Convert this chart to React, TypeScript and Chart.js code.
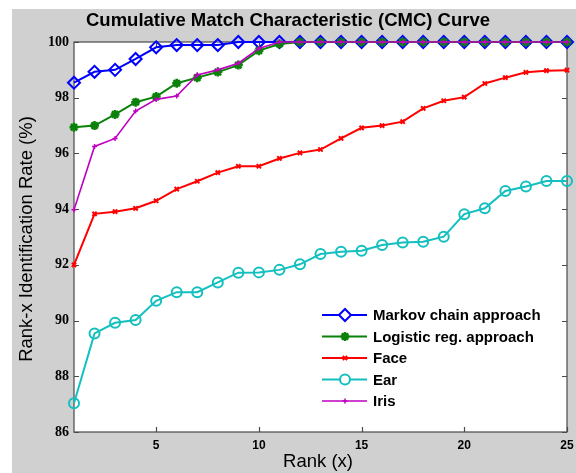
import React, { useEffect, useRef } from "react";
import { Chart, registerables } from "chart.js";
import { drawPoint } from "chart.js/helpers";

Chart.register(...registerables);

const ranks = [1, 2, 3, 4, 5, 6, 7, 8, 9, 10, 11, 12, 13, 14, 15, 16, 17, 18, 19, 20, 21, 22, 23, 24, 25];
const markov = [98.54, 98.93, 99.0, 99.39, 99.81, 99.89, 99.89, 99.89, 100, 100, 100, 100, 100, 100, 100, 100, 100, 100, 100, 100, 100, 100, 100, 100, 100];
const logistic = [96.94, 97.0, 97.4, 97.84, 98.04, 98.52, 98.72, 98.92, 99.17, 99.69, 99.93, 100, 100, 100, 100, 100, 100, 100, 100, 100, 100, 100, 100, 100, 100];
const face = [92.0, 93.83, 93.91, 94.03, 94.3, 94.72, 95.0, 95.31, 95.54, 95.54, 95.82, 96.02, 96.14, 96.54, 96.92, 97.0, 97.14, 97.62, 97.89, 98.02, 98.51, 98.72, 98.91, 98.97, 98.99];
const ear = [87.03, 89.54, 89.92, 90.02, 90.71, 91.02, 91.02, 91.37, 91.72, 91.73, 91.82, 92.02, 92.39, 92.47, 92.51, 92.71, 92.8, 92.83, 93.01, 93.82, 94.03, 94.65, 94.81, 95.01, 95.01];
const iris = [93.98, 96.25, 96.54, 97.52, 97.94, 98.06, 98.82, 99.0, 99.24, 99.77, 100, 100, 100, 100, 100, 100, 100, 100, 100, 100, 100, 100, 100, 100, 100];

const xTicks = [5, 10, 15, 20, 25];
const yTicks = [86, 88, 90, 92, 94, 96, 98, 100];

const titleText = "Cumulative Match Characteristic (CMC) Curve";
const xLabel = "Rank (x)";
const yLabel = "Rank-x Identification Rate (%)";

const seriesDefs = [
  { label: "Markov chain approach", values: markov, color: "#0000ff", style: "rectRot", radius: 6, lw: 2, pbw: 2, fill: "rgba(0,0,0,0)", order: 5 },
  { label: "Logistic reg. approach", values: logistic, color: "#0a820a", style: "star", radius: 4.5, lw: 2, pbw: 2.5, fill: "#0a820a", order: 4 },
  { label: "Face", values: face, color: "#ff0000", style: "crossRot", radius: 3, lw: 2, pbw: 2, fill: "#ff0000", order: 3 },
  { label: "Ear", values: ear, color: "#14bfbf", style: "circle", radius: 5, lw: 2, pbw: 2, fill: "rgba(0,0,0,0)", order: 2 },
  { label: "Iris", values: iris, color: "#c000c0", style: "cross", radius: 2.5, lw: 1.6, pbw: 1.5, fill: "#c000c0", order: 1 },
];

const GRAY = "#d0d0d0";

const decorPlugin = {
  id: "decor",
  beforeDraw(chart: any) {
    const { ctx, chartArea } = chart;
    ctx.save();
    ctx.fillStyle = "#ffffff";
    ctx.fillRect(0, 0, chart.width, chart.height);
    ctx.fillStyle = GRAY;
    ctx.fillRect(12, 9, chart.width - 12, chart.height - 9);
    ctx.fillStyle = "#ffffff";
    ctx.fillRect(chartArea.left, chartArea.top, chartArea.right - chartArea.left, chartArea.bottom - chartArea.top);
    ctx.restore();
  },
  beforeDatasetsDraw(chart: any) {
    const { ctx, chartArea } = chart;
    const xs = chart.scales.x;
    const ys = chart.scales.y;
    const { left, right, top, bottom } = chartArea;
    ctx.save();
    ctx.strokeStyle = "#4a4a4a";
    ctx.lineWidth = 1.2;
    ctx.strokeRect(left, top, right - left, bottom - top);
    ctx.beginPath();
    for (const v of yTicks) {
      const y = Math.round(ys.getPixelForValue(v)) + 0.5;
      ctx.moveTo(left, y);
      ctx.lineTo(left + 5, y);
      ctx.moveTo(right, y);
      ctx.lineTo(right - 5, y);
    }
    for (const v of xTicks) {
      const x = Math.round(xs.getPixelForValue(v)) + 0.5;
      ctx.moveTo(x, bottom);
      ctx.lineTo(x, bottom - 5);
      ctx.moveTo(x, top);
      ctx.lineTo(x, top + 5);
    }
    ctx.stroke();
    ctx.restore();
  },
  afterDraw(chart: any) {
    const { ctx, chartArea } = chart;
    ctx.save();
    ctx.fillStyle = "#000";
    ctx.textAlign = "center";
    ctx.textBaseline = "middle";
    ctx.font = "bold 18.5px 'Liberation Sans', Arial, sans-serif";
    ctx.fillText(titleText, 288, 21);
    ctx.font = "18.5px 'Liberation Sans', Arial, sans-serif";
    ctx.fillText(xLabel, 318, 462);
    ctx.save();
    ctx.translate(27, (chartArea.top + chartArea.bottom) / 2 + 2);
    ctx.rotate(-Math.PI / 2);
    ctx.fillText(yLabel, 0, 0);
    ctx.restore();

    // legend
    const rowY = [315, 336.5, 358, 379.5, 401];
    ctx.textAlign = "left";
    ctx.font = "bold 15px 'Liberation Sans', Arial, sans-serif";
    seriesDefs.forEach((s, i) => {
      const y = rowY[i];
      ctx.strokeStyle = s.color;
      ctx.lineWidth = s.lw;
      ctx.beginPath();
      ctx.moveTo(322, y);
      ctx.lineTo(367, y);
      ctx.stroke();
      ctx.fillStyle = s.fill === "rgba(0,0,0,0)" ? "#ffffff" : s.fill;
      ctx.strokeStyle = s.color;
      ctx.lineWidth = s.pbw;
      drawPoint(ctx, { pointStyle: s.style as any, radius: s.radius, rotation: 0, borderWidth: s.pbw }, 345, y);
      ctx.fillStyle = "#000";
      ctx.fillText(s.label, 373, y + 1);
    });
    ctx.restore();
  },
};

export default function App() {
  const ref = useRef<HTMLCanvasElement>(null);
  useEffect(() => {
    const chart = new Chart(ref.current!, {
      type: "line",
      data: {
        datasets: seriesDefs.map((s) => ({
          label: s.label,
          data: ranks.map((r, i) => ({ x: r, y: s.values[i] })),
          borderColor: s.color,
          backgroundColor: s.fill,
          borderWidth: s.lw,
          pointStyle: s.style as any,
          pointRadius: s.radius,
          pointBorderWidth: s.pbw,
          pointBorderColor: s.color,
          pointBackgroundColor: s.fill,
          tension: 0,
          clip: false as any,
          order: s.order,
        })),
      },
      plugins: [decorPlugin],
      options: {
        responsive: false,
        animation: false,
        devicePixelRatio: 1,
        layout: { padding: { left: 12, top: 42, right: 9, bottom: 0 } },
        plugins: { legend: { display: false }, tooltip: { enabled: false }, title: { display: false } },
        scales: {
          x: {
            type: "linear",
            min: 1,
            max: 25,
            grid: { display: false, drawTicks: false },
            border: { display: false },
            afterBuildTicks: (scale: any) => {
              scale.ticks = xTicks.map((v) => ({ value: v }));
            },
            afterFit: (scale: any) => {
              scale.height = 41;
              scale.paddingLeft = 0;
              scale.paddingRight = 0;
            },
            ticks: {
              padding: 6,
              color: "#000",
              maxRotation: 0,
              autoSkip: false,
              font: { family: "'Liberation Sans', Arial, sans-serif", weight: "bold", size: 12 },
            },
          },
          y: {
            type: "linear",
            min: 86,
            max: 100,
            grid: { display: false, drawTicks: false },
            border: { display: false },
            afterBuildTicks: (scale: any) => {
              scale.ticks = yTicks.map((v) => ({ value: v }));
            },
            afterFit: (scale: any) => {
              scale.width = 62;
              scale.paddingTop = 0;
              scale.paddingBottom = 0;
            },
            ticks: {
              padding: 5,
              color: "#000",
              autoSkip: false,
              font: { family: "'Liberation Serif', 'Times New Roman', serif", weight: "bold", size: 14 },
            },
          },
        },
      },
    });
    return () => chart.destroy();
  }, []);
  return (
    <div style={{ position: "fixed", left: 0, top: 0, width: 576, height: 473, background: "#fff" }}>
      <canvas ref={ref} width={576} height={473} style={{ width: 576, height: 473, display: "block" }} />
    </div>
  );
}
